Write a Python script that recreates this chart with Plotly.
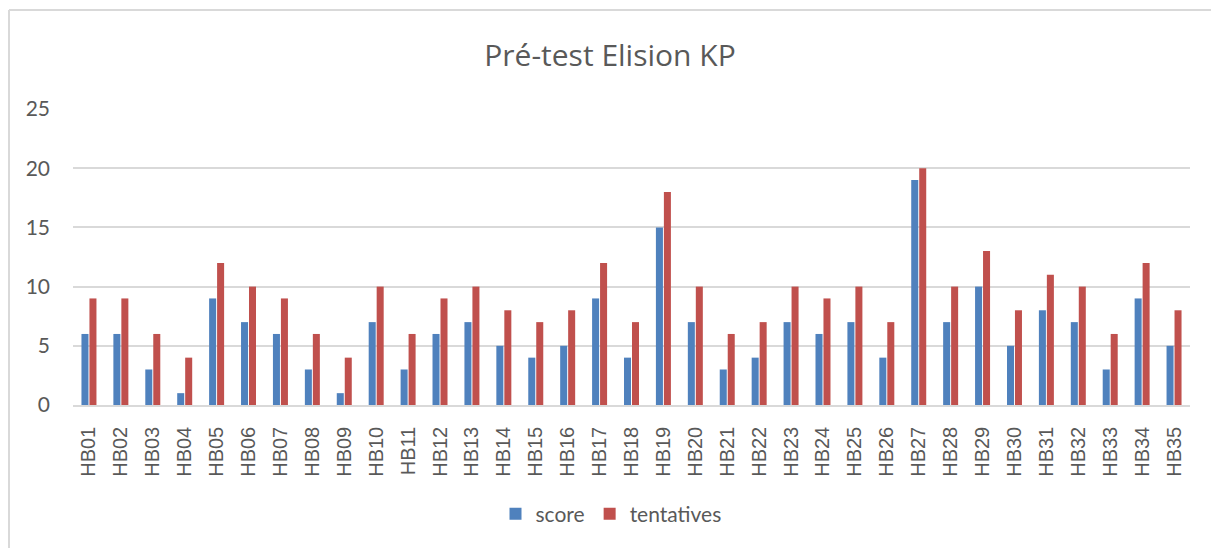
import plotly.graph_objects as go

categories = [f"HB{i:02d}" for i in range(1, 36)]
score = [6, 6, 3, 1, 9, 7, 6, 3, 1, 7, 3, 6, 7, 5, 4, 5, 9, 4, 15, 7,
         3, 4, 7, 6, 7, 4, 19, 7, 10, 5, 8, 7, 3, 9, 5]
tentatives = [9, 9, 6, 4, 12, 10, 9, 6, 4, 10, 6, 9, 10, 8, 7, 8, 12, 7, 18, 10,
              6, 7, 10, 9, 10, 7, 20, 10, 13, 8, 11, 10, 6, 12, 8]
y_ticks = [0, 5, 10, 15, 20, 25]

W, H = 1211, 548
L, R, T, B = 73, 21, 109, 143
pw, ph = W - L - R, H - T - B

def px_x(x):
    return (x - L) / pw

def px_y(y):
    return (H - B - y) / ph

text_col = "#595959"
grid_col = "#D9D9D9"

fig = go.Figure()
fig.add_trace(go.Bar(x=categories, y=score, name="score",
                     marker=dict(color="#4F81BD", line=dict(width=0))))
fig.add_trace(go.Bar(x=categories, y=tentatives, name="tentatives",
                     marker=dict(color="#C0504D", line=dict(width=0))))

fig.update_layout(
    width=W, height=H,
    margin=dict(l=L, r=R, t=T, b=B, pad=0),
    paper_bgcolor="white", plot_bgcolor="white",
    barmode="group", bargap=0.5, bargroupgap=0.12,
    title=dict(text="Pré-test Elision KP", x=610 / W, xanchor="center",
               y=1 - 55 / H, yanchor="middle",
               font=dict(family="Open Sans", size=30, color=text_col)),
    font=dict(family="Lato", color=text_col),
    showlegend=True,
    legend=dict(orientation="h", x=px_x(611), xanchor="center",
                y=px_y(514), yanchor="middle",
                font=dict(family="Lato", size=21, color=text_col),
                itemclick=False),
    xaxis=dict(type="category", tickangle=-90, showgrid=False,
               showline=True, linecolor=grid_col, linewidth=1.5,
               ticks="", ticklabelstandoff=12,
               tickfont=dict(family="Liberation Sans", size=20, color=text_col),
               range=[-0.5, 34.5]),
    yaxis=dict(range=[0, 25], tickvals=y_ticks, showgrid=True,
               gridcolor=grid_col, gridwidth=1.5, zeroline=False,
               showline=False, ticks="", ticklabelstandoff=22,
               tickfont=dict(family="Lato", size=21, color=text_col)),
    shapes=[
        dict(type="line", xref="paper", yref="paper",
             x0=px_x(9), x1=px_x(9), y0=px_y(10), y1=px_y(H + 2),
             line=dict(color=grid_col, width=2)),
        dict(type="line", xref="paper", yref="paper",
             x0=px_x(9), x1=px_x(W + 2), y0=px_y(10), y1=px_y(10),
             line=dict(color=grid_col, width=2)),
    ],
)

fig.write_html("out.html")
